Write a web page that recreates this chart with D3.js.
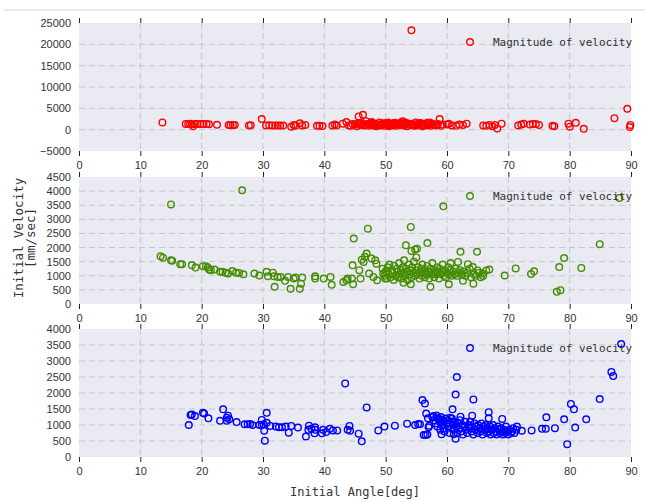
<!DOCTYPE html>
<html>
<head>
<meta charset="utf-8">
<script src="https://cdn.jsdelivr.net/npm/d3@7"></script>
<style>
  body { margin: 0; background: #fff; }
  svg { display: block; font-family: "DejaVu Sans Mono", monospace; }
  .grid line { stroke: #c4c4c8; stroke-width: 1; stroke-dasharray: 6,4; }
  .tick-lbl { font-size: 11px; fill: #333; }
</style>
</head>
<body>
<svg id="chart" width="645" height="502"></svg>
<script>
// ticks
const angleTicks = [0, 10, 20, 30, 40, 50, 60, 70, 80, 90];
const redTicks = [-5000, 0, 5000, 10000, 15000, 20000, 25000];
const greenTicks = [0, 500, 1000, 1500, 2000, 2500, 3000, 3500, 4000, 4500];
const blueTicks = [0, 500, 1000, 1500, 2000, 2500, 3000, 3500, 4000];

// [angle deg, velocity mm/sec]
const redPoints = [
  [13.6,1700],[17.4,1350],[17.8,1300],[18.1,1400],[18.4,1250],[18.6,800],[18.9,1300],[19.3,1350],
  [19.8,1300],[20.3,1300],[20.8,1300],[21.2,1250],[22.5,1150],[24.4,1100],[24.7,1050],[25.1,1100],
  [25.4,1100],[27.7,1000],[28.0,1050],[29.8,2500],[30.5,1000],[31.0,1050],[31.5,1000],[32.0,1000],
  [32.4,950],[32.8,1000],[33.3,950],[34.6,700],[35.0,1100],[35.3,900],[36.0,1500],[36.4,1000],
  [36.9,1100],[38.8,900],[39.2,900],[39.7,850],[41.3,1000],[41.7,1200],[42.0,950],[43.0,1400],
  [43.6,1800],[44.0,1000],[44.3,900],[44.6,1300],
  [45.0,1200],[45.3,800],[45.6,3100],[45.8,1100],[46.1,1500],[46.3,3500],[46.5,1000],[46.8,2000],
  [47.0,1300],[47.2,900],[47.5,1100],[47.8,1600],[48.0,1000],[48.3,1400],[48.5,800],[48.8,1200],
  [49.0,1700],[49.2,1000],[49.5,1300],[49.8,900],[50.0,1500],[50.2,1100],[50.5,800],[50.7,1400],
  [51.0,1200],[51.3,1000],[51.5,1600],[51.8,900],[52.0,1300],[52.3,1100],[52.5,1500],[52.8,2000],
  [53.0,1000],[53.2,1200],[53.5,800],[53.8,1400],[54.0,1100],[54.2,23300],[54.4,1300],[54.7,900],
  [55.0,1200],[55.2,1000],[55.5,1500],[55.8,1100],[56.0,800],[56.3,1300],[56.5,1000],[56.8,1600],
  [57.0,1200],[57.3,900],[57.6,1400],[57.9,1100],[58.2,1000],[58.5,1300],[58.8,2500],[59.0,900],
  [59.3,1200],[45.4,1400],[46.0,1250],[46.7,1150],[47.4,1450],[48.1,1250],[48.7,1050],[49.4,1150],
  [50.1,1300],[50.8,1050],[51.6,1250],[52.2,1450],[52.9,1150],[53.6,1250],[54.5,1050],[55.3,1350],
  [56.1,1150],[56.9,1050],[57.7,1250],[58.4,1150],[49.6,1500],[51.1,1450],[53.3,1600],[55.7,1550],
  [57.2,1700],[47.7,1800],[50.4,1700],[52.6,1800],[54.9,1700],
  [60.0,1200],[60.3,1400],[60.8,1000],[61.5,900],[62.0,1200],[62.6,1100],[63.2,1400],[65.9,1000],
  [66.4,900],[66.9,1100],[67.4,800],[67.8,1100],[68.2,300],[68.9,1400],[71.6,1000],[72.1,1200],
  [72.5,1400],[73.5,1200],[74.0,1300],[74.5,1300],[75.0,1100],[77.2,900],[77.5,800],[79.8,1400],
  [80.0,700],[81.0,1600],[82.3,200],[87.3,2700],[89.4,4900],[89.9,1100],[89.8,600]
];

const greenPoints = [
  [15.0,3530],[26.6,4030],[13.3,1690],[13.7,1640],[15.0,1550],[15.2,1530],[16.5,1410],[16.8,1410],
  [18.4,1370],[19.0,1290],[20.2,1340],[20.7,1340],[21.0,1290],[21.2,1220],[21.5,1200],[22.1,1220],
  [23.0,1140],[23.4,1140],[23.9,1110],[24.3,1080],[25.0,1170],[25.6,1110],[26.1,1100],[26.8,1050],
  [28.6,1080],[29.4,1010],[30.6,1140],[30.8,980],[31.6,1110],[31.8,980],[31.9,610],[32.4,960],
  [32.9,960],[33.6,820],[34.1,960],[34.5,540],[35.0,900],[35.3,940],[36.0,540],[36.2,720],
  [36.4,940],[38.5,980],[38.5,900],[39.9,900],[41.0,960],[41.2,680],[43.1,780],[43.6,840],
  [43.8,900],[44.8,2320],[44.6,1370],[47.1,2670],[54.1,2730],[59.4,3460],[88.1,3760],[84.9,2120],
  [56.8,2160],[53.3,2080],[54.8,1930],[55.1,1960],[54.2,1880],[62.2,1850],[64.9,1850],
  [46.9,1790],[46.6,1670],[46.1,1570],[46.4,1490],[45.7,1200],[44.5,900],[44.7,700],[45.9,900],
  [47.7,1610],[48.3,1550],[48.5,1430],[47.3,1080],[48.0,960],[48.6,840],[49.6,1080],[49.9,900],
  [52.9,750],[54.1,700],[57.3,610],[60.3,700],[62.6,820],[64.3,720],[61.8,1490],[63.4,1410],
  [64.2,1310],[65.0,1190],[65.8,1080],[66.4,1190],[66.9,1220],[65.9,990],[69.4,1010],[71.2,1260],
  [73.7,1060],[74.2,1160],[78.3,1310],[79.1,1630],[81.9,1280],[77.9,430],[78.5,490],
  [49.5,1250],[49.8,1000],[50.0,1150],[50.2,900],[50.3,1300],[50.5,1050],[50.6,1400],[50.8,950],
  [51.0,1200],[51.1,1100],[51.3,850],[51.4,1350],[51.6,1000],[51.8,1250],[51.9,1150],[52.0,950],
  [52.2,1450],[52.3,1050],[52.5,1200],[52.6,900],[52.8,1300],[52.9,1100],[53.0,1550],[53.2,1000],
  [53.3,1250],[53.5,1150],[53.6,850],[53.8,1400],[53.9,1050],[54.0,1200],[54.2,950],[54.3,1300],
  [54.5,1100],[54.6,1500],[54.8,1000],[54.9,1200],[55.0,1650],[55.2,1050],[55.3,1300],[55.5,900],
  [55.6,1150],[55.8,1250],[55.9,1000],[56.0,1400],[56.2,1100],[56.4,950],[56.5,1200],[56.7,1050],
  [56.8,1350],[57.0,1150],[57.1,900],[57.3,1250],[57.5,1050],[57.6,1450],[57.8,1100],[57.9,950],
  [58.0,1200],[58.2,1050],[58.4,1300],[58.5,1150],[58.7,900],[58.8,1250],[59.0,1050],[59.2,1150],
  [59.3,1400],[59.5,1000],[59.7,1200],[59.8,950],[60.0,1100],[60.2,1300],[60.3,1050],[60.5,1200],
  [60.6,1450],[60.8,1000],[61.0,1150],[61.2,1050],[61.4,1250],[61.6,1000],[61.9,1100],[62.1,1200],
  [62.4,1050],[62.7,1150],[63.0,1000],[63.3,1100],[63.7,1250],[63.9,950],[64.4,1050],[64.7,1000],
  [65.2,1100],[65.5,950]
];

const bluePoints = [
  [17.9,1000],[18.2,1310],[18.4,1330],[18.9,1280],[20.2,1380],[20.4,1360],[21.1,1210],[23.0,1130],
  [23.5,1490],[24.1,1230],[24.3,1290],[24.5,1180],[24.1,1130],[25.7,1090],[27.0,1020],[27.5,1020],
  [27.9,1030],[28.3,1000],[29.4,1000],[29.8,1160],[29.8,1000],[30.1,1020],[30.6,1380],[30.6,1070],
  [30.2,820],[30.3,510],[31.2,970],[32.1,950],[32.6,930],[33.1,930],[33.7,950],[34.2,760],
  [34.6,970],[35.7,920],[37.0,640],[37.5,980],[37.4,850],[37.9,880],[38.5,930],[38.5,850],
  [38.4,740],[39.6,740],[39.8,850],[40.3,780],[40.9,880],[41.4,830],[42.1,830],[43.4,2300],
  [44.1,970],[44.2,820],[43.8,850],[45.6,730],[46.1,490],[46.9,1550],[48.8,830],[49.8,950],
  [51.5,980],[53.5,1040],[54.8,1000],[55.3,1030],[55.6,1020],[56.0,1780],[56.4,1670],[56.6,1360],
  [56.9,1210],[57.0,930],[56.5,690],[56.2,690],[56.8,700],[57.1,980],[57.8,1280],[58.3,1230],
  [58.8,1180],[59.2,1110],[59.5,900],[59.1,710],[60.9,1490],[60.5,1230],[60.9,1090],[61.1,710],
  [61.4,570],[61.4,1950],[61.6,2500],[62.2,1260],[64.1,1290],[64.3,1800],[66.8,1400],[66.8,1210],
  [69.0,1190],[71.4,950],[72.2,820],[73.8,830],[75.5,880],[76.1,880],[76.2,1240],[77.6,900],
  [79.1,1180],[79.6,400],[80.2,1660],[80.7,1490],[80.9,920],[82.7,1180],[84.9,1810],[86.8,2660],
  [87.1,2530],[88.4,3530],
  [57.6,1250],[57.9,1150],[58.1,1050],[58.3,1300],[58.4,950],[58.6,1200],[58.8,1100],[58.9,850],
  [59.0,1250],[59.3,1000],[59.4,1150],[59.6,800],[59.8,1200],[59.9,1050],[60.1,950],[60.2,1150],
  [60.4,750],[60.5,1050],[60.7,900],[60.8,1200],[61.0,1000],[61.2,850],[61.3,1100],[61.5,950],
  [61.7,750],[61.8,1050],[62.0,900],[62.1,1150],[62.3,800],[62.5,1000],[62.6,700],[62.8,950],
  [63.0,1100],[63.1,850],[63.3,750],[63.5,1000],[63.6,900],[63.8,1100],[64.0,800],[64.1,950],
  [64.3,700],[64.5,1050],[64.6,850],[64.8,950],[65.0,750],[65.1,1000],[65.3,900],[65.5,800],
  [65.6,1050],[65.8,700],[66.0,950],[66.1,850],[66.3,1000],[66.5,750],[66.6,900],[66.8,800],
  [67.0,950],[67.1,700],[67.3,850],[67.5,1000],[67.6,750],[67.8,900],[68.0,800],[68.1,700],
  [68.3,950],[68.5,850],[68.6,750],[68.8,900],[69.0,800],[69.1,700],[69.3,850],[69.5,750],
  [69.6,950],[69.8,800],[70.0,700],[70.2,850],[70.4,750],[70.6,800],[70.8,900],[71.0,750],
  [71.3,850]
];

const svg = d3.select('#chart');
const plotLeft = 79, plotRight = 631;

// notebook cell border
svg.append('line').attr('x1', 4).attr('x2', 645).attr('y1', 10).attr('y2', 10)
  .attr('stroke', '#d0d0d0').attr('stroke-width', 1);

const x = d3.scaleLinear().domain([0, 90]).range([plotLeft, plotRight]);

const panels = [
  { points: redPoints, ticks: redTicks, domain: [-5000, 25000], top: 23, bottom: 151, color: '#ff0000' },
  { points: greenPoints, ticks: greenTicks, domain: [0, 4500], top: 177, bottom: 304, color: '#448c00' },
  { points: bluePoints, ticks: blueTicks, domain: [0, 4000], top: 329, bottom: 457, color: '#0000ff' }
];

panels.forEach(p => {
  const y = d3.scaleLinear().domain(p.domain).range([p.bottom, p.top]);
  const g = svg.append('g');

  g.append('rect')
    .attr('x', plotLeft).attr('y', p.top)
    .attr('width', plotRight - plotLeft).attr('height', p.bottom - p.top)
    .attr('fill', '#eaeaf2');

  // dashed grid
  const grid = g.append('g').attr('class', 'grid');
  grid.selectAll('.gx').data(angleTicks.slice(1, -1)).enter().append('line')
    .attr('x1', d => x(d)).attr('x2', d => x(d))
    .attr('y1', p.top).attr('y2', p.bottom);
  grid.selectAll('.gy').data(p.ticks.slice(1, -1)).enter().append('line')
    .attr('x1', plotLeft).attr('x2', plotRight)
    .attr('y1', d => y(d)).attr('y2', d => y(d));

  // x ticks, top and bottom, outward
  const bottomAxis = d3.axisBottom(x).tickValues(angleTicks).tickSize(5).tickPadding(5);
  const topAxis = d3.axisTop(x).tickValues(angleTicks).tickSize(5).tickFormat('');
  const ab = g.append('g').attr('transform', `translate(0,${p.bottom})`).call(bottomAxis);
  const at = g.append('g').attr('transform', `translate(0,${p.top})`).call(topAxis);
  [ab, at].forEach(a => {
    a.select('.domain').remove();
    a.selectAll('.tick line').attr('stroke', '#222').attr('stroke-width', 1);
    a.selectAll('.tick text').attr('class', 'tick-lbl').attr('font-family', null).attr('font-size', null);
  });

  // y ticks labels only
  const left = d3.axisLeft(y).tickValues(p.ticks).tickSize(0).tickPadding(8)
    .tickFormat(d => d < 0 ? '\u2212' + Math.abs(d) : d);
  const al = g.append('g').attr('transform', `translate(${plotLeft},0)`).call(left);
  al.select('.domain').remove();
  al.selectAll('.tick text').attr('class', 'tick-lbl').attr('font-family', null).attr('font-size', null);

  // points
  g.append('g').selectAll('circle').data(p.points).enter().append('circle')
    .attr('cx', d => x(d[0])).attr('cy', d => y(d[1])).attr('r', 3.3)
    .attr('fill', 'none').attr('stroke', p.color).attr('stroke-width', 1.4);

  // legend
  const ly = p.top + 19;
  g.append('circle').attr('cx', 470).attr('cy', ly).attr('r', 3.3)
    .attr('fill', 'none').attr('stroke', p.color).attr('stroke-width', 1.4);
  g.append('text').attr('x', 493).attr('y', ly).attr('dy', '0.35em')
    .attr('font-size', 11).attr('fill', '#333').text('Magnitude of velocity');
});

// axis labels
svg.append('text').attr('x', 355).attr('y', 496).attr('text-anchor', 'middle')
  .attr('font-size', 12).attr('fill', '#333').text('Initial Angle[deg]');
svg.append('text').attr('transform', 'translate(23,238) rotate(-90)').attr('text-anchor', 'middle')
  .attr('font-size', 12.5).attr('fill', '#333').text('Initial Velocity');
svg.append('text').attr('transform', 'translate(35,238) rotate(-90)').attr('text-anchor', 'middle')
  .attr('font-size', 12.5).attr('fill', '#333').text('[mm/sec]');
</script>
</body>
</html>
